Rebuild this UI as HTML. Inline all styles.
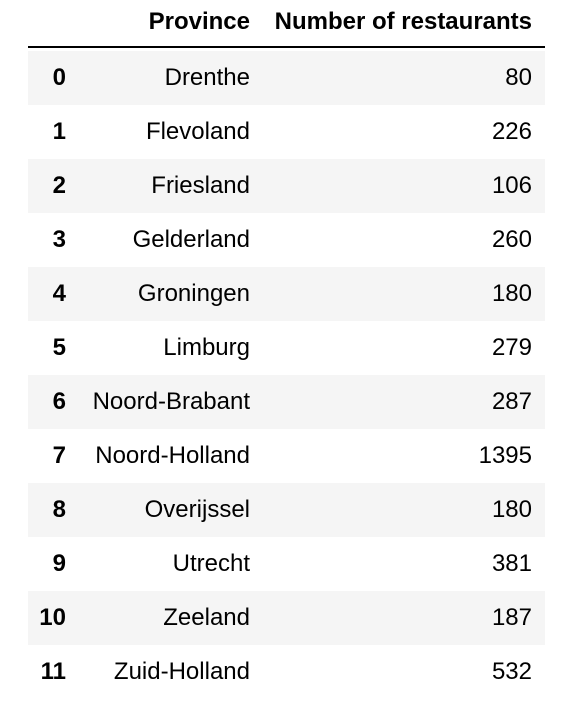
<!DOCTYPE html>
<html><head><meta charset="utf-8"><style>
body{margin:0;width:566px;height:710px;background:#fff;font-family:"Liberation Sans",Arial,sans-serif;color:#000;overflow:hidden}
.t{position:absolute;left:0;top:0;width:566px}
.row{position:absolute;left:28px;width:517px;height:54px}
.row.s{background:#f5f5f5}
.c{position:absolute;top:0;line-height:54px;font-size:24px;text-align:right;white-space:nowrap}
.i{right:479px;font-weight:bold}
.p{right:295px}
.n{right:13px}
.h{position:absolute;top:0;height:46px;line-height:44px;font-size:24px;font-weight:bold;white-space:nowrap;text-align:right}
.line{position:absolute;left:28px;top:46px;width:517px;height:2px;background:#000}
</style></head><body>
<div class="t">
<div class="h" style="right:316px">Province</div>
<div class="h" style="right:34px">Number of restaurants</div>
<div class="line"></div>
<div id="rows"></div>
</div>
<script>
const idx=[0,1,2,3,4,5,6,7,8,9,10,11];
const provinces=["Drenthe","Flevoland","Friesland","Gelderland","Groningen","Limburg","Noord-Brabant","Noord-Holland","Overijssel","Utrecht","Zeeland","Zuid-Holland"];
const counts=[80,226,106,260,180,279,287,1395,180,381,187,532];
const host=document.getElementById('rows');
for(let k=0;k<provinces.length;k++){
  const r=document.createElement('div');
  r.className='row'+(k%2===0?' s':'');
  r.style.top=(51+k*54)+'px';
  
  
  const a=document.createElement('div');a.className='c i';a.textContent=idx[k];
  
  
  const b=document.createElement('div');b.className='c p';b.textContent=provinces[k];
  
  
  const c=document.createElement('div');c.className='c n';c.textContent=counts[k];
  
  
  r.appendChild(a);r.appendChild(b);r.appendChild(c);host.appendChild(r);
}
</script>
</body></html>
